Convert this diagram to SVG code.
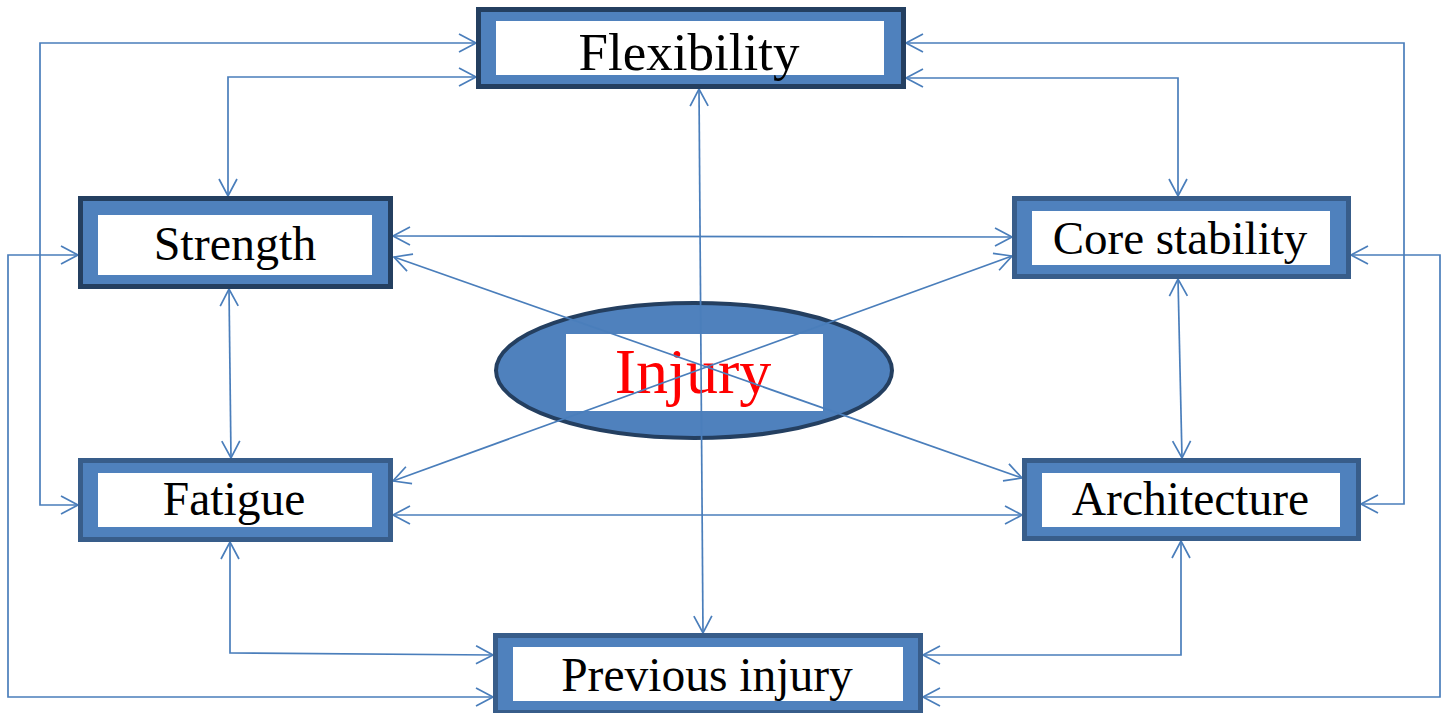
<svg xmlns="http://www.w3.org/2000/svg" width="1447" height="713" viewBox="0 0 1447 713">
<style>
.box{fill:#4f81bd;stroke-width:5}
.dk{stroke:#243f60}
.md{stroke:#385d8a}
.in{fill:#ffffff}
.lbl{font-family:"Liberation Serif","Times New Roman",serif;fill:#000;text-anchor:middle}
.c{fill:none;stroke:#4a7ebb;stroke-width:1.7;marker-start:url(#ah);marker-end:url(#ah)}
</style>
<defs>
<marker id="ah" markerUnits="userSpaceOnUse" viewBox="-19 -11 21 22" refX="0" refY="0" markerWidth="21" markerHeight="22" orient="auto-start-reverse" overflow="visible">
<path d="M-17,-9 L0,0 L-17,9" fill="none" stroke="#4a7ebb" stroke-width="1.7"/>
</marker>
</defs>
<rect width="1447" height="713" fill="#fff"/>
<g id="injury">
<ellipse cx="694" cy="370.5" rx="198" ry="67.5" fill="#4f81bd" stroke="#243f60" stroke-width="4"/>
<rect class="in" x="566" y="334" width="257" height="77"/>
<text x="693" y="393" font-size="64" style="font-family:'Liberation Serif','Times New Roman',serif;fill:#ff0000;text-anchor:middle">Injury</text>
</g>
<g id="connectors">
<path class="c" d="M699,89 L703,633"/>
<path class="c" d="M394,257 L1022,478"/>
<path class="c" d="M393,481 L1012,256"/>
<path class="c" d="M393,236 L1012,237"/>
<path class="c" d="M393,515 L1022,515"/>
<path class="c" d="M229,289 L231,458"/>
<path class="c" d="M476,77 L228,77 L228,196"/>
<path class="c" d="M476,43 L40,43 L40,505 L78,505"/>
<path class="c" d="M78,255 L8,255 L8,697 L493,697"/>
<path class="c" d="M230,542 L230,653 L493,655"/>
<path class="c" d="M906,78 L1178,78 L1178,196"/>
<path class="c" d="M906,43 L1404,43 L1404,504 L1361,504"/>
<path class="c" d="M1351,255 L1440,255 L1440,697 L923,697"/>
<path class="c" d="M1181,541 L1181,655 L923,655"/>
<path class="c" d="M1178,279 L1182,458"/>
</g>
<g id="flexibility">
<rect class="box dk" x="478.5" y="9.5" width="425" height="77"/>
<rect class="in" x="496" y="21" width="388" height="54"/>
<text class="lbl" x="689" y="70" font-size="53">Flexibility</text>
</g>
<g id="strength">
<rect class="box dk" x="80.5" y="198.5" width="310" height="88"/>
<rect class="in" x="98" y="215" width="274" height="60"/>
<text class="lbl" x="235" y="260" font-size="48">Strength</text>
</g>
<g id="fatigue">
<rect class="box md" x="80.5" y="460.5" width="310" height="79"/>
<rect class="in" x="98" y="473" width="274" height="54"/>
<text class="lbl" x="234" y="515" font-size="47.5">Fatigue</text>
</g>
<g id="core-stability">
<rect class="box md" x="1014.5" y="198.5" width="334" height="78"/>
<rect class="in" x="1032" y="211" width="298" height="54"/>
<text class="lbl" x="1180" y="254" font-size="47">Core stability</text>
</g>
<g id="architecture">
<rect class="box md" x="1024.5" y="460.5" width="334" height="78"/>
<rect class="in" x="1042" y="473" width="298" height="54"/>
<text class="lbl" x="1190.5" y="515" font-size="47.5">Architecture</text>
</g>
<g id="previous-injury">
<rect class="box md" x="495.5" y="635.5" width="425" height="77"/>
<rect class="in" x="513" y="647" width="390" height="54"/>
<text class="lbl" x="707" y="691" font-size="47.5">Previous injury</text>
</g>
</svg>
